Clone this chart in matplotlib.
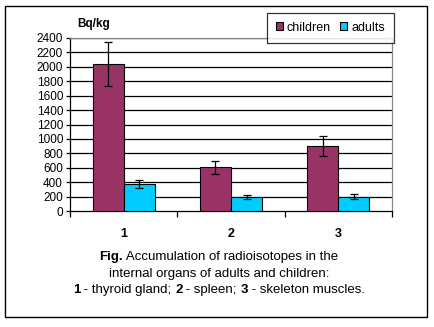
import matplotlib
matplotlib.use("Agg")
import matplotlib.pyplot as plt
import numpy as np
from matplotlib.patches import Rectangle

plt.rcParams['font.family'] = ['Liberation Sans', 'DejaVu Sans']

categories = ['1', '2', '3']
children = [2040, 605, 900]
children_err = [310, 95, 140]
adults = [372, 192, 197]
adults_err = [55, 30, 37]
yticks = list(range(0, 2401, 200))

W, H = 435, 327
fig = plt.figure(figsize=(W / 100, H / 100), dpi=100)

def fx(px):
    return px / W

def fy(py):
    return 1 - py / H

# outer border
fig.patches.append(Rectangle((fx(5.5), fy(316.5)), fx(422), 311 / H, transform=fig.transFigure,
                             fill=False, edgecolor='black', linewidth=1))

ax = fig.add_axes([fx(70), fy(211), fx(392 - 70), (211 - 38) / H])
x = np.arange(len(categories))
bw = 0.29
ax.bar(x - bw / 2, children, bw, color='#993366', edgecolor='black', linewidth=0.8,
       yerr=children_err, error_kw=dict(ecolor='black', elinewidth=0.9, capsize=3, capthick=0.9),
       label='children', zorder=3)
ax.bar(x + bw / 2, adults, bw, color='#00CCFF', edgecolor='black', linewidth=0.8,
       yerr=adults_err, error_kw=dict(ecolor='black', elinewidth=0.9, capsize=3, capthick=0.9),
       label='adults', zorder=3)

ax.set_xlim(-0.5, 2.5)
ax.set_ylim(0, 2400)
ax.set_yticks(yticks)
ax.set_yticklabels([str(v) for v in yticks], fontsize=8.5)
for v in yticks[1:]:
    ax.axhline(v, color='black', linewidth=0.9, zorder=1)

ax.set_xticks([-0.5, 0.5, 1.5, 2.5])
ax.set_xticklabels([])
ax.set_xticks(x, minor=True)
ax.set_xticklabels(categories, minor=True, fontsize=9, fontweight='bold')
ax.tick_params(axis='x', which='major', length=4, width=0.9, direction='out')
ax.tick_params(axis='x', which='minor', length=0, pad=12)
ax.tick_params(axis='y', length=3, width=0.9, direction='out', pad=2)

ax.spines['left'].set_color('black')
ax.spines['bottom'].set_color('black')
ax.spines['top'].set_color('#888888')
ax.spines['right'].set_color('#888888')
for s in ax.spines.values():
    s.set_linewidth(0.9)

fig.text(fx(77), fy(24), 'Bq/kg', fontsize=8.5, fontweight='bold', va='center', ha='left')

leg = ax.legend(loc='upper left', bbox_to_anchor=(fx(267), fy(13)), bbox_transform=fig.transFigure,
                ncol=2, frameon=True, fancybox=False, fontsize=9, handlelength=0.6, handleheight=0.6,
                handletextpad=0.3, columnspacing=0.7, borderpad=0.7, borderaxespad=0)
leg.get_frame().set_edgecolor('black')
leg.get_frame().set_linewidth(0.9)
leg.set_zorder(5)

# caption with mixed bold segments
lines = [
    [('Fig.', 'bold'), (' Accumulation of radioisotopes in the', 'normal')],
    [('internal organs of adults and children:', 'normal')],
    [('1', 'bold'), (' - thyroid gland; ', 'normal'), ('2', 'bold'), (' - spleen; ', 'normal'),
     ('3', 'bold'), (' - skeleton muscles.', 'normal')],
]
ys = [257, 274, 290]
fig.canvas.draw()
r = fig.canvas.get_renderer()
cx = 219
for segs, yy in zip(lines, ys):
    texts = []
    for s, wgt in segs:
        t = fig.text(0, fy(yy), s, fontsize=9.5, fontweight=wgt, va='center', ha='left')
        texts.append(t)
    widths = [t.get_window_extent(r).width for t in texts]
    total = sum(widths)
    pos = cx - total / 2
    for t, w in zip(texts, widths):
        t.set_x(fx(pos))
        pos += w

fig.savefig('out.png', dpi=100)
